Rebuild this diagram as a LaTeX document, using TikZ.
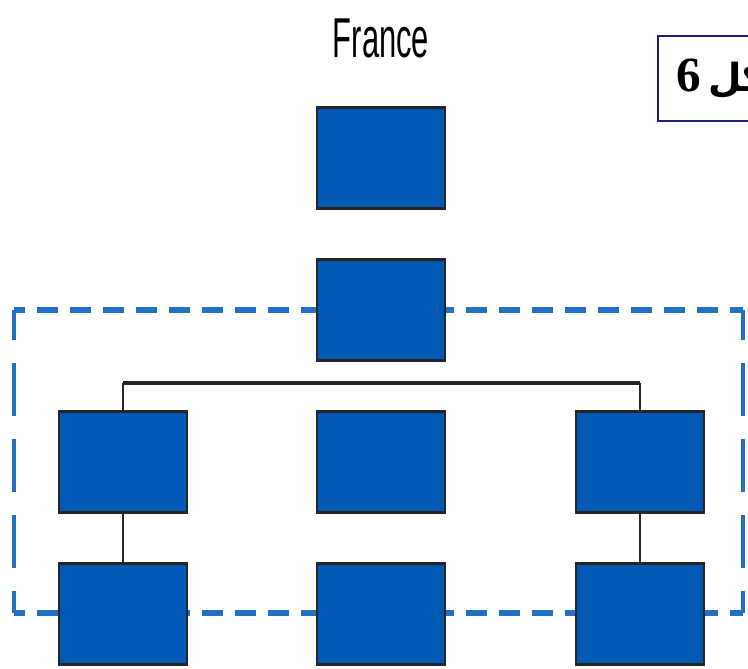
\documentclass[tikz,border=0pt]{standalone}
\usepackage{fontspec}
\usepackage{xcolor}
\usepackage{tikz}
\TeXXeTstate=1
\newfontfamily\arabicfont[Script=Arabic]{DejaVu Sans}
\newfontfamily\narrowfont[FakeStretch=0.55]{Liberation Sans}
\newfontfamily\serifbold{Liberation Serif}
\definecolor{boxblue}{HTML}{0058B2}
\definecolor{dashblue}{HTML}{2270C4}
\definecolor{framenavy}{HTML}{1E1E78}

\begin{document}
\begin{tikzpicture}%
        [x=0.2mm, y=-0.2mm,
        unit/.style={fill=boxblue, draw=black!85, line width=0.7pt,
            inner sep=0pt, outer sep=0pt,
            minimum width=25.6mm, minimum height=20.4mm,
            path picture={\draw[black!85, line width=2pt]
                (path picture bounding box.north west) -- (path picture bounding box.north east)
                (path picture bounding box.south west) -- (path picture bounding box.south east);}},
        link/.style={color=black!85, line width=1.1pt},
        bar/.style={color=black!85, line width=2pt},
        hdash/.style={color=dashblue, line width=3.2pt, dash pattern=on 4.2mm off 2.4mm, dash phase=2mm},
        vdash/.style={color=dashblue, line width=2.2pt, dash pattern=on 10.6mm off 4.6mm, dash phase=4.6mm}]
    \clip[use as bounding box] (0,0) rectangle (748,669);
    %% Dashed frame
    \coordinate (nw) at (14,310);
    \coordinate (ne) at (743,310);
    \coordinate (sw) at (14,613);
    \coordinate (se) at (743,613);
    \draw[hdash] (nw) -- (ne);
    \draw[hdash] (sw) -- (se);
    \draw[vdash] (nw) -- (sw);
    \draw[vdash] (ne) -- (se);
    %%
    %% Drawing the units
    %%
    \node[font=\narrowfont\fontsize{32}{36}\selectfont] (france) at (381,38) {France};
    \node[unit] (top) at (381,158) {};
    \node[unit] (head) at (381,310) {};
    \node[unit] (left1) at (123,462) {};
    \node[unit] (mid1) at (381,462) {};
    \node[unit] (right1) at (640,462) {};
    \node[unit] (left2) at (123,614) {};
    \node[unit] (mid2) at (381,614) {};
    \node[unit] (right2) at (640,614) {};

    %% Links between units
    \coordinate (bartop) at (381,383);
    \draw[link] (left1.north) -- (left1.north |- bartop);
    \draw[link] (right1.north) -- (right1.north |- bartop);
    \draw[bar] (left1.north |- bartop) -- (right1.north |- bartop);
    \draw[link] (left1) -- (left2);
    \draw[link] (right1) -- (right2);

    %% Caption box
    \node[draw=framenavy, line width=1.1pt, anchor=north west, minimum height=17mm,
        inner xsep=3.8mm, font=\fontsize{22}{28}\selectfont] (caption) at (657,35)
        {{\serifbold\bfseries\fontsize{28}{30}\selectfont 6}\,{\arabicfont\bfseries\beginR شكل\endR}};
    \end{tikzpicture}
\end{document}
